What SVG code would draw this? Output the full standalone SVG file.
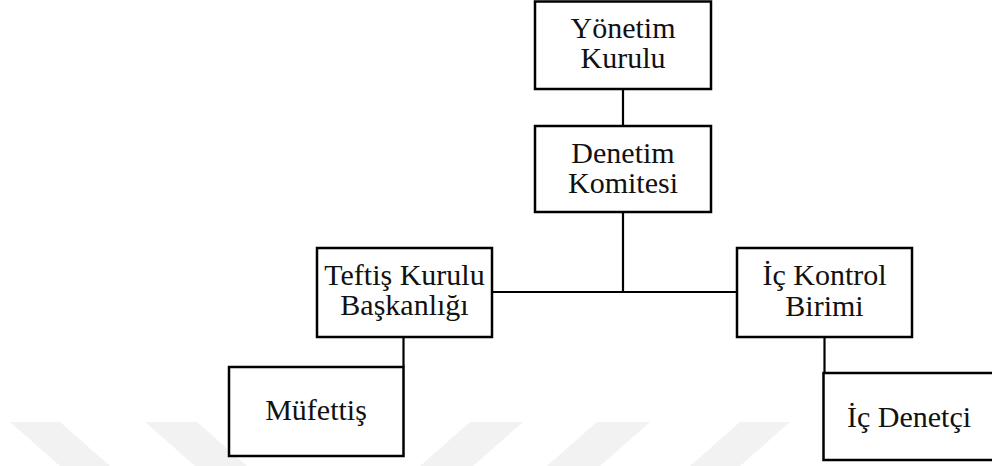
<svg xmlns="http://www.w3.org/2000/svg" width="992" height="466" viewBox="0 0 992 466">
<style>
.box{fill:#fff;stroke:#000;stroke-width:2.5}
.wm{fill:#f2f2f2}
.lbl{font-family:'Liberation Serif',serif;font-size:30px;fill:#111;text-anchor:middle}
.con{stroke:#000;stroke-width:2.2;fill:none}
</style>
<rect width="992" height="466" fill="#fff"/>
<g id="watermark">
<polygon class="wm" points="10,422 60,422 110,466 60,466"/>
<polygon class="wm" points="145,422 197,422 247,466 195,466"/>
<polygon class="wm" points="470,422 523,422 473,466 420,466"/>
<polygon class="wm" points="597,422 650,422 600,466 547,466"/>
<polygon class="wm" points="740,422 790,422 740,466 690,466"/>
</g>
<g id="connectors">
<line class="con" x1="623" y1="89" x2="623" y2="126"/>
<line class="con" x1="623" y1="212" x2="623" y2="292"/>
<line class="con" x1="492" y1="292" x2="737" y2="292"/>
<line class="con" x1="403.5" y1="337" x2="403.5" y2="367"/>
<line class="con" x1="824.5" y1="337" x2="824.5" y2="373"/>
</g>
<g id="yonetim">
<rect class="box" x="535" y="1.5" width="176" height="87.5"/>
<text class="lbl" x="623" y="38">Yönetim</text>
<text class="lbl" x="623" y="68">Kurulu</text>
</g>
<g id="denetim">
<rect class="box" x="535" y="126" width="176" height="86"/>
<text class="lbl" x="623" y="163">Denetim</text>
<text class="lbl" x="623" y="193">Komitesi</text>
</g>
<g id="teftis">
<rect class="box" x="317" y="248" width="175" height="89"/>
<text class="lbl" x="404.5" y="285">Teftiş Kurulu</text>
<text class="lbl" x="404.5" y="315">Başkanlığı</text>
</g>
<g id="ickontrol">
<rect class="box" x="737" y="248" width="175" height="89"/>
<text class="lbl" x="824.5" y="285">İç Kontrol</text>
<text class="lbl" x="824.5" y="316">Birimi</text>
</g>
<g id="mufettis">
<rect class="box" x="229" y="367" width="174.5" height="89"/>
<text class="lbl" x="316" y="420">Müfettiş</text>
</g>
<g id="icdenetci">
<rect class="box" x="823.5" y="373" width="175" height="87"/>
<text class="lbl" x="909" y="427">İç Denetçi</text>
</g>
</svg>
